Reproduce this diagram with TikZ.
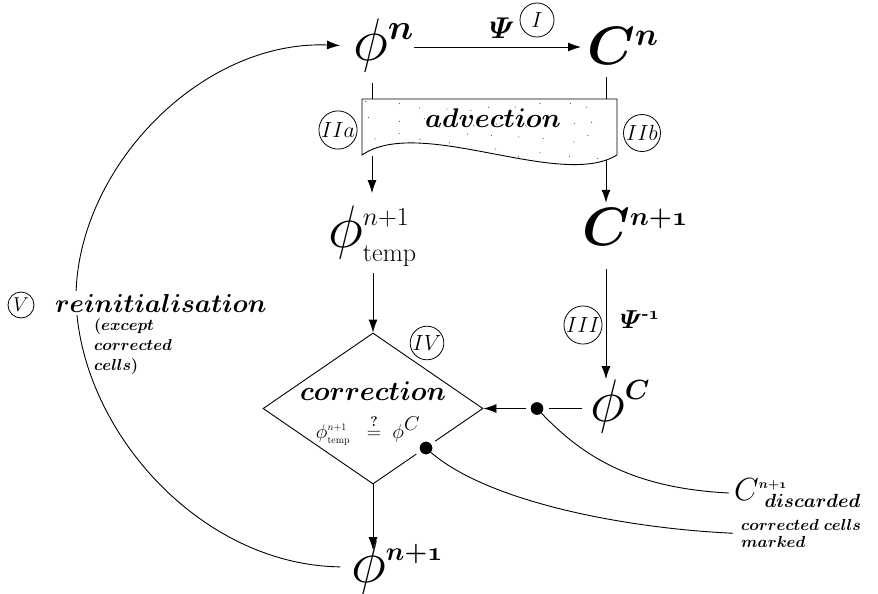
\RequirePackage{fix-cm}
\documentclass[tikz,border=0pt]{standalone}
\usepackage{amsmath}
\usepackage{graphicx}
\usetikzlibrary{arrows.meta,shapes.geometric,calc}
\tikzset{
  ln/.style={line width=0.9pt},
  conn/.style={line width=0.9pt, -{Latex[length=13pt,width=9pt]}},
  rom/.style={circle, draw, line width=0.8pt, inner sep=0.5pt, minimum size=34pt, font=\fontsize{22}{22}\selectfont},
  big/.style={inner sep=0pt, font=\fontsize{60}{62}\selectfont},
  bigC/.style={inner sep=0pt, font=\fontsize{54}{56}\selectfont\boldmath},
  lbl/.style={inner sep=0pt, font=\fontsize{26}{28}\selectfont\boldmath},
  small/.style={inner sep=0pt, font=\fontsize{16}{20}\selectfont\boldmath, align=left},
  blob/.style={circle, fill=black, draw=white, line width=5pt, minimum size=18pt, inner sep=0pt},
}
\begin{document}
\begin{tikzpicture}[x=1pt,y=-1pt]
\useasboundingbox (0,0) rectangle (878,594);

% top row
\node[big, anchor=base west] (phin) at (353,61) {$\phi^{\scalebox{0.85}{$\scriptstyle\boldsymbol{n}$}}$};
\node[bigC, anchor=base west, inner xsep=6pt] (Cn) at (581,65) {$C^{\scalebox{0.85}{$\scriptstyle n$}}$};
\draw[conn] ([yshift=14pt]phin.base east) -- ([yshift=18pt]Cn.base west);
\node[inner sep=0pt, font=\fontsize{30}{32}\selectfont\boldmath] (psi) at (502,28) {$\varPsi$};
\node[rom] (cI) at (537,20) {$I$};

% advection box
\coordinate (atl) at (362,99);
\coordinate (atr) at (617,99);
\coordinate (abr) at (617,155);
\coordinate (abl) at (362,155);
\begin{scope}
  \clip (atl) -- (atr) -- (abr) .. controls (560,190) and (420,115) .. (abl) -- cycle;
  \pgfmathsetseed{5}
  \foreach \i in {0,...,9} {
    \foreach \j in {0,...,3} {
      \fill[black!70] ({372+24.5*\i+14*(rnd-0.5)},{106+16*\j+10*(rnd-0.5)}) circle (0.6pt);
    }
  }
\end{scope}
\draw[ln] (atl) -- (atr) -- (abr) .. controls (560,190) and (420,115) .. (abl) -- cycle;
\node[lbl, font=\fontsize{27}{28}\selectfont\boldmath] (adv) at (493,118) {$advection$};
\coordinate (pt1) at (372,99);
\coordinate (pt2) at (606,99);
\draw[ln, shorten <=10pt] (phin.south -| pt1) -- (pt1);
\draw[ln, shorten <=12pt] (Cn.south -| pt2) -- (pt2);
\node[rom, minimum size=37pt] (cIIa) at (338,130) {$IIa$};
\node[rom, minimum size=37pt] (cIIb) at (642,133) {$IIb$};

% second row
\node[big, anchor=base west] (phitemp) at (328,247) {$\phi^{\scalebox{0.62}{$\scriptstyle n+1$}}_{\scalebox{0.62}{$\scriptstyle\mathrm{temp}$}}$};
\node[bigC, anchor=base west] (Cn1) at (582,245) {$C^{\scalebox{0.7}{$\scriptstyle n+\mathnormal{1}$}}$};
\coordinate (pb1) at (372,156);
\coordinate (pb2) at (606,160);
\draw[conn, shorten >=12pt] (pb1) -- (pb1 |- phitemp.north);
\draw[conn, shorten >=5pt] (pb2) -- (pb2 |- Cn1.north);

% diamond
\node[diamond, draw, ln, minimum width=220pt, minimum height=151pt, inner sep=0pt] (diam) at (373,408.5) {};
\node[lbl, font=\fontsize{27}{28}\selectfont\boldmath] (corr) at (373,391) {$correction$};
\node[inner sep=0pt, font=\fontsize{20}{22}\selectfont] (eq) at (368,430) {$\phi^{\scriptscriptstyle n+1}_{\scriptscriptstyle\mathrm{temp}}\;\;\stackrel{\boldsymbol{?}}{=}\;\phi^{\textstyle C}$};
\node[rom, minimum size=30pt] (cIV) at (427,343) {$IV$};
\draw[conn, shorten <=6pt] (phitemp.south -| diam.north) -- (diam.north);

% right column
\node[big, anchor=base west, inner xsep=8pt, inner ysep=0pt] (phiC) at (582,421) {$\phi^{\scalebox{0.66}{$\scriptstyle\boldsymbol{C}$}}$};
\draw[conn, shorten <=24pt] (Cn1.south -| pt2) -- (pt2 |- phiC.north);
\node[rom, minimum size=36pt] (cIII) at (583,325) {$III$};
\node[inner sep=0pt, font=\fontsize{26}{28}\selectfont\boldmath] (psiinv) at (640,320) {$\varPsi^{\textbf{-}\mathnormal{1}}$};

\node[blob] (dot1) at (537,408.5) {};
\draw[ln] (phiC.west |- dot1) -- (dot1);
\draw[conn] (dot1) -- (diam.east);
\node[blob] (dot2) at ($(diam.east)!0.52!(diam.south)$) {};

% bottom
\node[big, anchor=base west] (phin1) at (351,582) {$\phi^{\scalebox{0.62}{$\scriptstyle\boldsymbol{n+\mathnormal{1}}$}}$};
\draw[conn, shorten >=-10pt] (diam.south) -- (diam.south |- phin1.north);

% reinitialisation arc
\coordinate (lm) at (76,300);
\draw[conn, shorten <=11pt, shorten >=13pt] (phin1.west) .. controls (200,565) and (80,430) .. (lm) .. controls (75,170) and (200,40) .. (phin.west);
\node[lbl, fill=white, inner sep=3pt, anchor=west] (reinit) at (52,303) {$reinitialisation$};
\node[rom, minimum size=26pt, font=\fontsize{20}{20}\selectfont] (cV) at (21,305) {$V$};
\node[small, anchor=north west] (except) at (94,318) {$(except$\\$corrected$\\$cells)$};

% annotations
\node[inner sep=5pt, anchor=base west, font=\fontsize{32}{34}\selectfont] (cdisc) at (729,500) {$C^{\scalebox{0.57}{$\scriptstyle\boldsymbol{n+\mathnormal{1}}$}}_{\hspace{8pt}\scalebox{0.85}{$\scriptstyle\boldsymbol{discarded}$}}$};
\node[small, anchor=north west, inner xsep=8pt, inner ysep=0pt, font=\fontsize{16}{17}\selectfont\boldmath] (marked) at (733,519) {$corrected\ cells$\\$marked$};
\draw[ln] (dot1.center) .. controls (580,455) and (630,488) .. (cdisc.west);
\draw[ln] (dot2.center) .. controls (480,500) and (620,528) .. (marked.west);
\end{tikzpicture}
\end{document}
